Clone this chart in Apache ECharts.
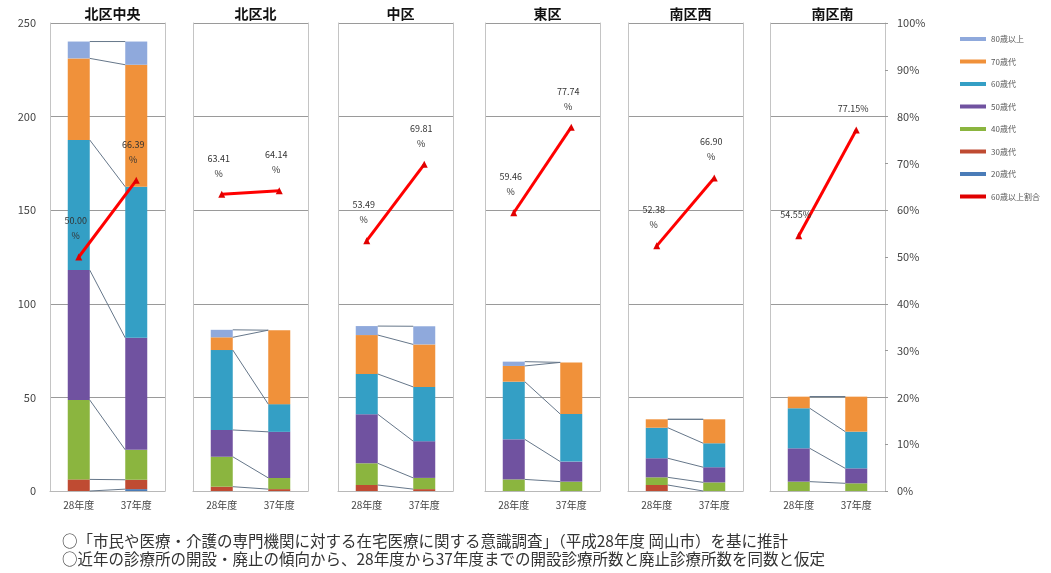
<!DOCTYPE html>
<html>
<head>
<meta charset="utf-8">
<script src="https://cdn.jsdelivr.net/npm/echarts@6/dist/echarts.min.js"></script>
<style>
html,body{margin:0;padding:0;background:#fff;}
#c{width:1051px;height:573px;}
</style>
</head>
<body>
<div id="c"></div>
<script>
// ---- data ----
const districts = ['北区中央', '北区北', '中区', '東区', '南区西', '南区南'];
const years = ['28年度', '37年度'];
const ageNames = ['20歳代', '30歳代', '40歳代', '50歳代', '60歳代', '70歳代', '80歳以上']; // bottom -> top
const legendOrder = ['80歳以上', '70歳代', '60歳代', '50歳代', '40歳代', '30歳代', '20歳代', '60歳以上割合'];
// each: per district [28年度, 37年度]
const age20 = [[0, 1], [0, 0], [0, 0], [0, 0], [0, 0], [0, 0]];
const age30 = [[6.2, 5], [2.3, 1], [3.2, 1], [0, 0], [3.2, 0], [0, 0]];
const age40 = [[42.4, 16], [16, 6], [11.6, 6], [6.2, 5], [4.1, 4.6], [5, 4.1]];
const age50 = [[69.4, 59.8], [14.3, 24.6], [26.2, 19.6], [21.4, 10.7], [10.2, 8.1], [17.8, 8]];
const age60 = [[69.5, 80.7], [42.7, 14.8], [21.5, 29], [30.8, 25.4], [16.3, 12.8], [21.4, 19.6]];
const age70 = [[43.6, 65.2], [6.8, 39.5], [20.8, 22.7], [8.4, 27.6], [4.5, 12.8], [6.2, 18.7]];
const age80 = [[9, 12.4], [4, 0], [4.8, 9.7], [2.3, 0], [0, 0], [0, 0]];
const share60 = [[50.00, 66.39], [63.41, 64.14], [53.49, 69.81], [59.46, 77.74], [52.38, 66.90], [54.55, 77.15]];
const leftTicks = [0, 50, 100, 150, 200, 250];
const rightTicks = [0, 10, 20, 30, 40, 50, 60, 70, 80, 90, 100];
const notes = [
  '○「市民や医療・介護の専門機関に対する在宅医療に関する意識調査」（平成28年度 岡山市）を基に推計',
  '○近年の診療所の開設・廃止の傾向から、28年度から37年度までの開設診療所数と廃止診療所数を同数と仮定'
];

// ---- styles / layout ----
const ageSeriesData = [age20, age30, age40, age50, age60, age70, age80];
const ageColors = ['#4a7cb8', '#bf4b32', '#8bb53f', '#7052a0', '#349fc5', '#f0913a', '#8fa9dc'];
const FONT = '"Noto Sans CJK JP", "Noto Sans", sans-serif';
const panelLeft = [50, 193, 338, 485, 628, 770];
const panelW = 115, gridTop = 23, gridH = 468, barW = 22;

const chart = echarts.init(document.getElementById('c'), null, {renderer: 'canvas'});

const grid = [], xAxis = [], yAxis = [], series = [], title = [];
districts.forEach((d, i) => {
  grid.push({left: panelLeft[i], top: gridTop, width: panelW, height: gridH, containLabel: false});
  title.push({
    text: d, left: panelLeft[i] + panelW / 2, top: 2, textAlign: 'center',
    textStyle: {fontFamily: FONT, fontSize: 14, fontWeight: 'bold', color: '#111'}
  });
  xAxis.push({
    type: 'category', gridIndex: i, data: years,
    axisLine: {show: true, lineStyle: {color: '#b8b8b8'}},
    axisTick: {show: false},
    axisLabel: {fontFamily: FONT, fontSize: 10, color: '#444', margin: 9}
  });
  yAxis.push({
    type: 'value', gridIndex: i, min: leftTicks[0], max: leftTicks[leftTicks.length - 1], interval: 50,
    position: 'left',
    axisLine: {show: true, lineStyle: {color: '#c4c4c4'}},
    axisTick: {show: false},
    axisLabel: {show: i === 0, fontFamily: FONT, fontSize: 11, color: '#444', margin: 14},
    splitLine: {show: true, lineStyle: {color: '#9a9a9a', width: 1}}
  });
  yAxis.push({
    type: 'value', gridIndex: i, min: rightTicks[0], max: rightTicks[rightTicks.length - 1], interval: 10,
    position: 'right',
    axisLine: {show: true, lineStyle: {color: '#c4c4c4'}},
    axisTick: {show: i === 5, length: 3, lineStyle: {color: '#999'}},
    axisLabel: {show: i === 5, formatter: '{value}%', fontFamily: FONT, fontSize: 11, color: '#444', margin: 12},
    splitLine: {show: false}
  });
  // stacked bars
  ageNames.forEach((n, k) => {
    series.push({
      name: n, type: 'bar', stack: 'p' + i, xAxisIndex: i, yAxisIndex: 2 * i,
      barWidth: barW, data: ageSeriesData[k][i],
      itemStyle: {color: ageColors[k]}, z: 2
    });
  });
  // series connector lines between stacked segment boundaries
  const bounds = [];
  let c0 = 0, c1 = 0;
  ageSeriesData.forEach(arr => {
    c0 += arr[i][0]; c1 += arr[i][1];
    bounds.push([0, c0, c1]);
  });
  const uniq = bounds.filter(b => b[1] > 0.3 || b[2] > 0.3);
  series.push({
    type: 'custom', xAxisIndex: i, yAxisIndex: 2 * i, silent: true, z: 3,
    encode: {x: 0, y: 1},
    data: uniq,
    renderItem: (params, api) => {
      const a = api.coord([0, api.value(1)]);
      const b = api.coord([1, api.value(2)]);
      return {type: 'line', shape: {x1: a[0] + barW / 2, y1: a[1], x2: b[0] - barW / 2, y2: b[1]},
        style: {stroke: '#66778a', lineWidth: 1}};
    }
  });
  // share line
  series.push({
    name: '60歳以上割合', type: 'line', xAxisIndex: i, yAxisIndex: 2 * i + 1,
    data: share60[i], z: 5,
    lineStyle: {color: '#ff0000', width: 3},
    itemStyle: {color: '#e00000'},
    symbol: 'triangle', symbolSize: 7,
    label: {
      show: true, position: 'top', distance: 10, offset: [-3, 0],
      fontFamily: FONT, fontSize: 9, color: '#333', lineHeight: 15,
      formatter: p => i === 5 ? p.value.toFixed(2) + '%' : p.value.toFixed(2) + '\n%'
    }
  });
});

const option = {
  backgroundColor: '#ffffff',
  animation: false,
  textStyle: {fontFamily: FONT},
  title: title,
  legend: {
    orient: 'vertical', left: 955, top: 29,
    data: legendOrder.map(n => ({name: n, icon: 'rect'})),
    itemWidth: 26, itemHeight: 4, itemGap: 12.5,
    textStyle: {fontFamily: FONT, fontSize: 8, color: '#555', lineHeight: 10},
    selectedMode: false
  },
  grid, xAxis, yAxis, series,
  graphic: notes.map((t, j) => ({
    type: 'text', left: 62, top: 533 + j * 18,
    style: {text: t, font: '15.5px ' + FONT, fill: '#333'}
  }))
};
chart.setOption(option);
</script>
</body>
</html>
